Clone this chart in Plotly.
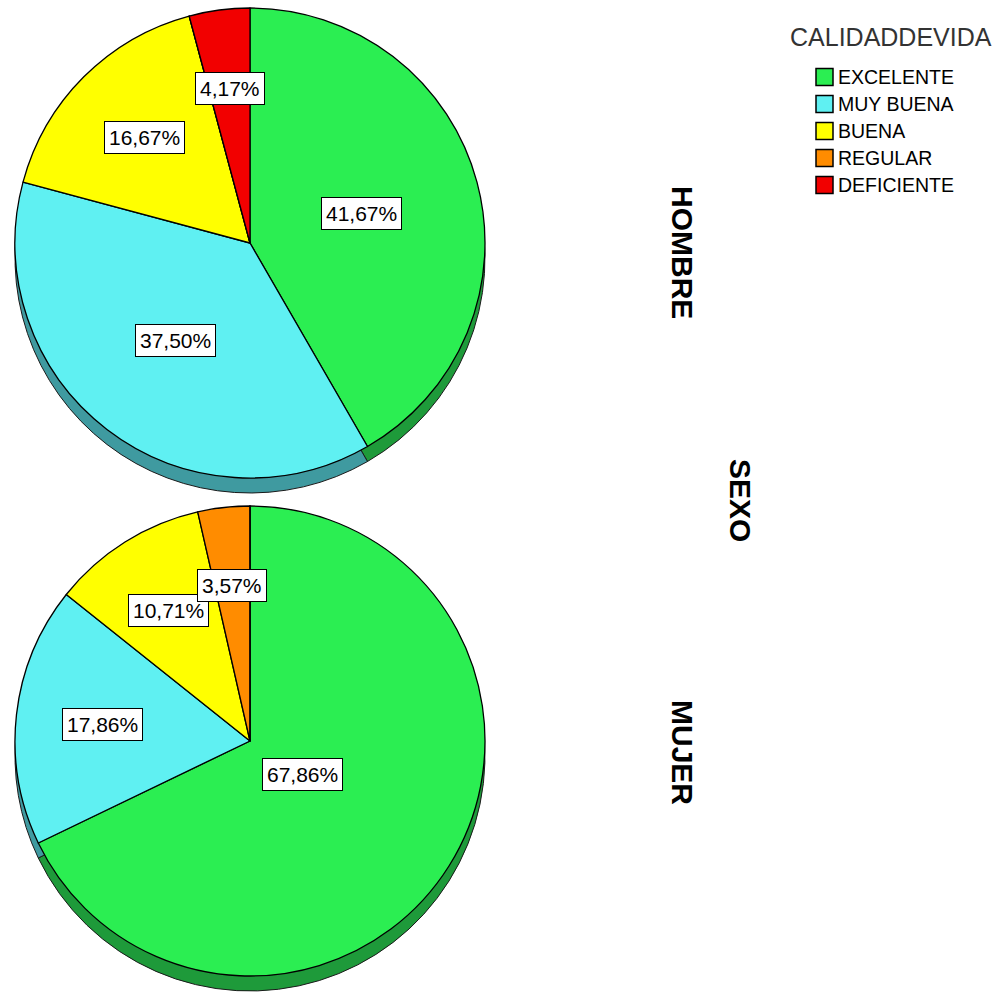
import math
import plotly.graph_objects as go

# Calidad de vida por sexo (frecuencias)
categorias = ["EXCELENTE", "MUY BUENA", "BUENA", "REGULAR", "DEFICIENTE"]
grupos = ["HOMBRE", "MUJER"]
conteo_hombre = [10, 9, 4, 0, 1]
conteo_mujer = [19, 5, 3, 1, 0]
titulo_leyenda = "CALIDADDEVIDA"
titulo_panel = "SEXO"

colores = ["#2BEE52", "#5FF0F2", "#FFFF00", "#FF8C00", "#F20000"]
colores_borde = ["#1E9A3A", "#3F9AA0", "#A6A600", "#A65A00", "#9A0000"]

W, H = 998, 992
R = 235           # pie radius in px
DEPTH = 15        # thickness of the pie rim in px
FONT = "Liberation Sans, Arial, sans-serif"
centros = [(250, 243), (250, 741)]


def dominio(cx, cy, r):
    return dict(x=[max(0, (cx - r) / W), min(1, (cx + r) / W)],
                y=[max(0, 1 - (cy + r) / H), min(1, 1 - (cy - r) / H)])


def pct_texto(v, total):
    return f"{100 * v / total:.2f}".replace(".", ",") + "%"


fig = go.Figure()
anotaciones = []

for (cx, cy), conteo in zip(centros, [conteo_hombre, conteo_mujer]):
    # rim: darker copy of the pie pushed down
    fig.add_trace(go.Pie(
        labels=categorias, values=conteo, sort=False, direction="clockwise",
        rotation=0, textinfo="none", hoverinfo="skip", showlegend=False,
        marker=dict(colors=colores_borde, line=dict(color="#1a1a1a", width=1)),
        domain=dominio(cx, cy + DEPTH, R),
    ))
    # top face
    fig.add_trace(go.Pie(
        labels=categorias, values=conteo, sort=False, direction="clockwise",
        rotation=0, textinfo="none", showlegend=False,
        marker=dict(colors=colores, line=dict(color="#000000", width=1.3)),
        domain=dominio(cx, cy, R),
    ))
    # percentage boxes at each slice's centroid
    total = sum(conteo)
    acumulado = 0.0
    for v in conteo:
        if v == 0:
            continue
        a = 2 * math.pi * v / total
        medio = 2 * math.pi * acumulado / total + a / 2
        acumulado += v
        d = 4 * R * math.sin(a / 2) / (3 * a)
        px = cx + d * math.sin(medio)
        py = cy - d * math.cos(medio)
        anotaciones.append(dict(
            x=px / W, y=1 - py / H, xref="paper", yref="paper",
            xanchor="center", yanchor="middle",
            text=pct_texto(v, total), showarrow=False,
            font=dict(family=FONT, size=21, color="#000000"),
            bgcolor="#FFFFFF", bordercolor="#000000", borderwidth=1, borderpad=4,
        ))

# panel labels (rotated)
for texto, (x, y) in zip(grupos + [titulo_panel], [(683, 252), (683, 752), (741, 500)]):
    anotaciones.append(dict(
        x=x / W, y=1 - y / H, xref="paper", yref="paper", text=f"<b>{texto}</b>",
        xanchor="center", yanchor="middle",
        textangle=90, showarrow=False,
        font=dict(family=FONT, size=30, color="#000000"),
    ))

# legend
formas = []
anotaciones.append(dict(
    x=788 / W, y=1 - 37 / H, xref="paper", yref="paper", text=titulo_leyenda,
    xanchor="left", yanchor="middle", showarrow=False,
    font=dict(family=FONT, size=25, color="#333333"),
))
for i, (cat, col) in enumerate(zip(categorias, colores)):
    yc = 77 + i * 27
    formas.append(dict(
        type="rect", xref="paper", yref="paper",
        x0=816 / W, x1=833 / W, y0=1 - (yc + 8.5) / H, y1=1 - (yc - 8.5) / H,
        fillcolor=col, line=dict(color="#000000", width=1.5),
    ))
    anotaciones.append(dict(
        x=836 / W, y=1 - yc / H, xref="paper", yref="paper", text=cat,
        xanchor="left", yanchor="middle", showarrow=False,
        font=dict(family=FONT, size=19.5, color="#000000"),
    ))

fig.update_layout(
    width=W, height=H,
    margin=dict(l=0, r=0, t=0, b=0),
    paper_bgcolor="#FFFFFF", plot_bgcolor="#FFFFFF",
    showlegend=False,
    annotations=anotaciones,
    shapes=formas,
)

fig.write_html("out.html")
